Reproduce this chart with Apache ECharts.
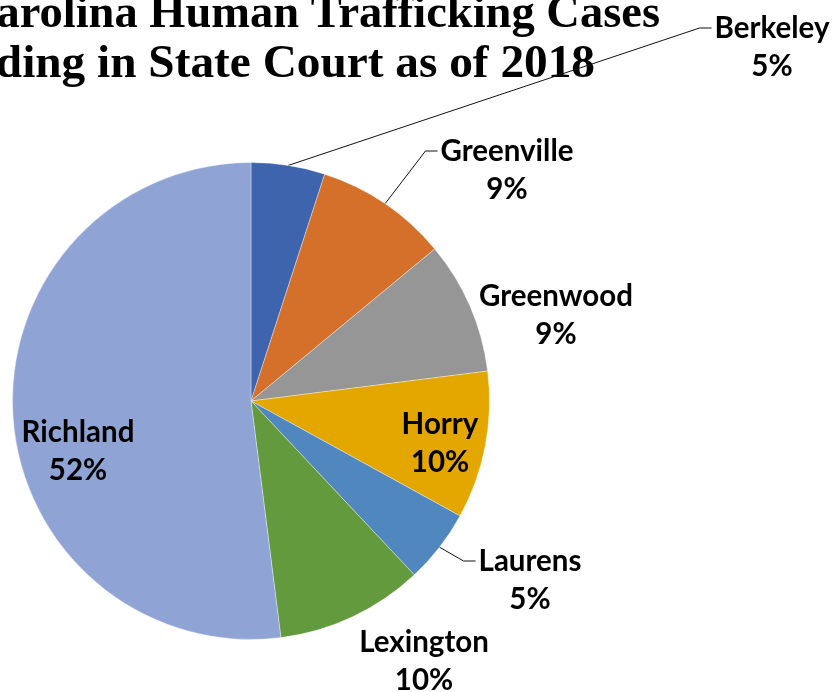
<!DOCTYPE html>
<html>
<head>
<meta charset="utf-8">
<script src="https://cdn.jsdelivr.net/npm/echarts@6/dist/echarts.min.js"></script>
<style>
  html, body { margin: 0; padding: 0; background: #fff; }
  #main { width: 836px; height: 692px; }
</style>
</head>
<body>
<div id="main"></div>
<script>
// data
const counties = ['Berkeley', 'Greenville', 'Greenwood', 'Horry', 'Laurens', 'Lexington', 'Richland'];
const shares = [5, 9, 9, 10, 5, 10, 52];
const titleLines = ['South Carolina Human Trafficking Cases', 'Pending in State Court as of 2018'];

// look
const colors = ['#3e64ad', '#d5702b', '#969696', '#e3a700', '#4f87be', '#649a3e', '#8fa3d4'];
const labelSpots = [[772, 47], [507, 170], [556, 315], [440, 443], [530, 580], [424, 661], [78, 451]];
const hasLeader = [true, true, false, false, true, false, false];
const lineH = 38;

window.addEventListener('load', function () {
    let chart = echarts.init(document.getElementById('main'));

    let pieData = counties.map(function (name, i) {
        return {
            name: name,
            value: shares[i],
            itemStyle: { color: colors[i] },
            labelLine: { show: hasLeader[i] }
        };
    });

    let option = {
        animation: false,
        graphic: [
            {
                type: 'text', x: 660, y: 15, z: 0,
                style: {
                    text: titleLines[0], textAlign: 'right', textVerticalAlign: 'middle',
                    font: 'bold 46.5px "Liberation Serif"', fill: '#000'
                }
            },
            {
                type: 'text', x: 595, y: 65, z: 0,
                style: {
                    text: titleLines[1], textAlign: 'right', textVerticalAlign: 'middle',
                    font: 'bold 47.3px "Liberation Serif"', fill: '#000'
                }
            }
        ],
        series: [{
            type: 'pie',
            center: [251, 401],
            radius: 238.5,
            startAngle: 90,
            clockwise: true,
            percentPrecision: 0,
            avoidLabelOverlap: false,
            itemStyle: { borderColor: 'rgba(255,255,255,0.7)', borderWidth: 0.5 },
            label: {
                show: true,
                position: 'outside',
                formatter: '{b}\n{d}%',
                fontFamily: 'Lato',
                fontWeight: 'bold',
                fontSize: 29.5,
                lineHeight: lineH,
                color: '#000'
            },
            labelLine: {
                show: false,
                lineStyle: { color: '#111', width: 1 }
            },
            labelLayout: function (params) {
                let spot = labelSpots[params.dataIndex];
                let out = { x: spot[0], y: spot[1], align: 'center', verticalAlign: 'middle' };
                if (hasLeader[params.dataIndex] && params.labelLinePoints) {
                    let ex = spot[0] - params.labelRect.width / 2 - 3;
                    let ey = spot[1] - lineH / 2;
                    out.labelLinePoints = [params.labelLinePoints[0], [ex - 12, ey], [ex, ey]];
                }
                return out;
            },
            data: pieData
        }]
    };

    chart.setOption(option);
}, false);
</script>
</body>
</html>
